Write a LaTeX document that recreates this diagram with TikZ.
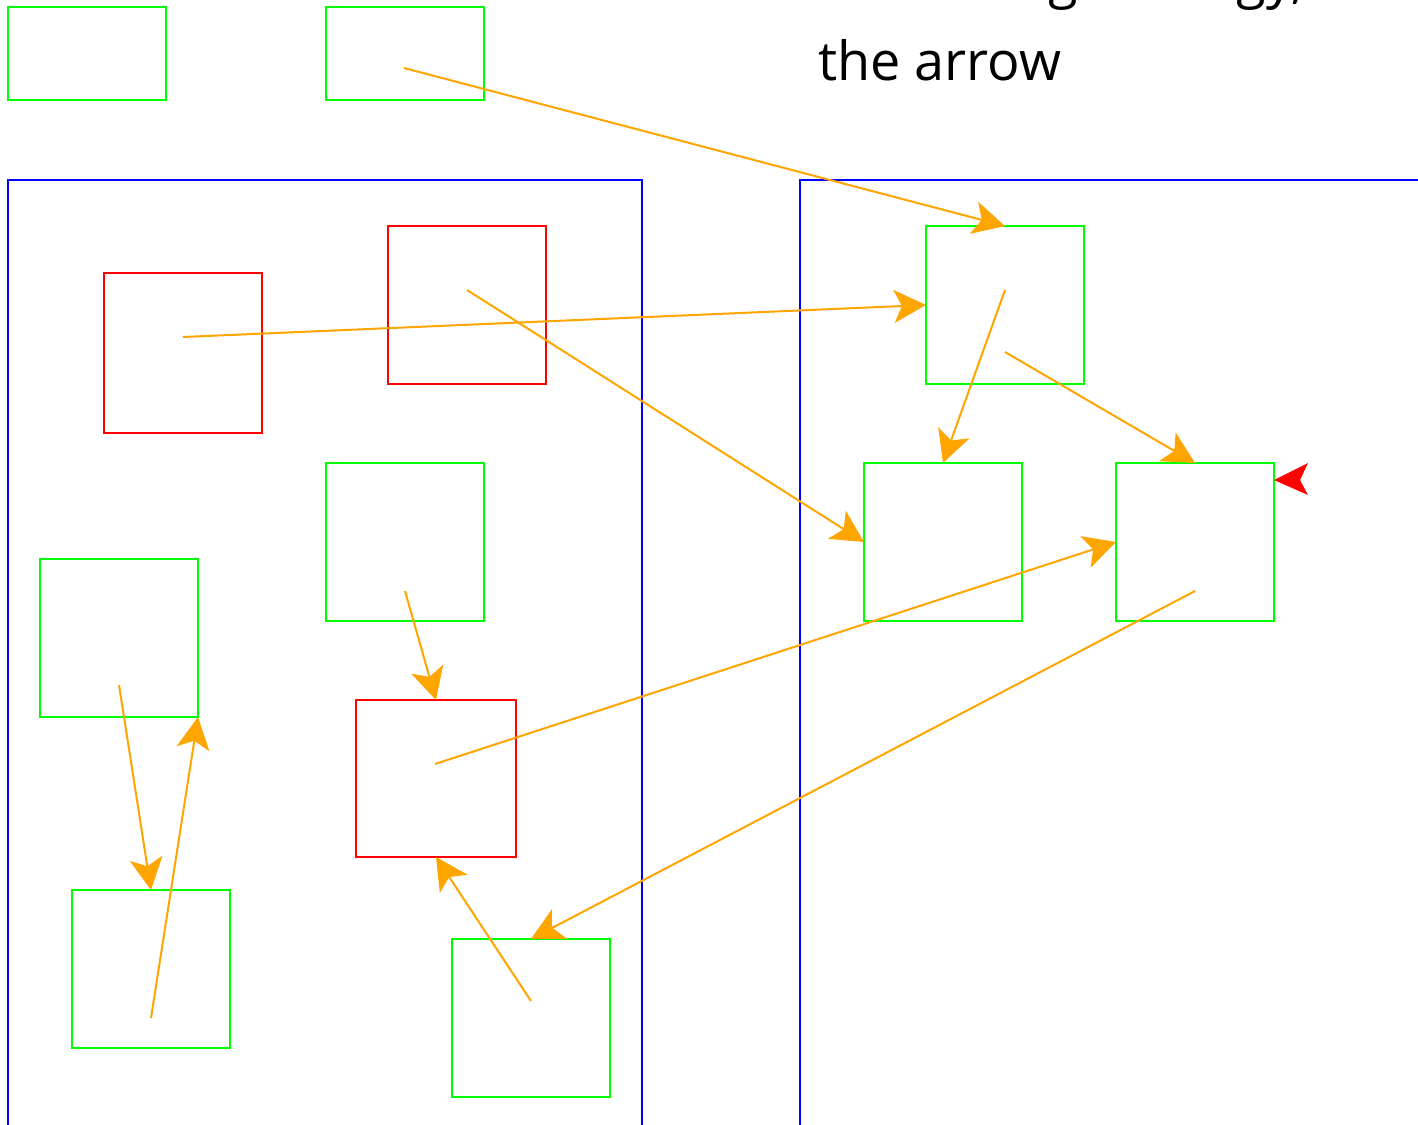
\documentclass[tikz,border=0pt]{standalone}
\usepackage{fontspec}
\setmainfont{Open Sans}
\usetikzlibrary{arrows.meta,calc}
\definecolor{boxgreen}{RGB}{0,255,0}
\definecolor{boxred}{RGB}{255,0,0}
\definecolor{frameblue}{RGB}{0,0,255}
\definecolor{arrorange}{RGB}{255,165,0}
\begin{document}
\begin{tikzpicture}[x=1pt,y=-1pt,
  box/.style={draw, line width=2pt, inner sep=0pt, outer sep=0pt, minimum width=158pt, minimum height=158pt},
  gbox/.style={box, draw=boxgreen},
  rbox/.style={box, draw=boxred},
  frame/.style={draw=frameblue, line width=2pt},
  conn/.style={draw=arrorange, line width=2pt, -{Stealth[length=32pt,width=33pt,inset=8pt]}},
  caption/.style={font=\fontsize{54}{64}\selectfont, inner sep=0pt}]
\useasboundingbox (0,0) rectangle (1418,1124);
\clip (0,0) rectangle (1418,1124);
% frames
\draw[frame] (8,1140) -- (8,180) -- (642,180) -- (642,1140);
\draw[frame] (800,1140) -- (800,180) -- (1430,180);
% caption
\node[caption, anchor=base east] (cap1) at (1305,-2) {routing strategy,};
\node[caption, anchor=base west] (cap2) at (818,81) {the arrow};
% boxes
\node[gbox, minimum height=93pt] (top1) at (87,53.5) {};
\node[gbox, minimum height=93pt] (top2) at (405,53.5) {};
\node[rbox, minimum height=160pt] (r1) at (183,353) {};
\node[rbox] (r2) at (467,305) {};
\node[rbox, minimum width=160pt, minimum height=157pt] (r3) at (436,778.5) {};
\node[gbox] (g1) at (405,542) {};
\node[gbox] (g2) at (119,638) {};
\node[gbox] (g3) at (151,969) {};
\node[gbox] (g4) at (531,1018) {};
\node[gbox] (g5) at (1005,305) {};
\node[gbox] (g6) at (943,542) {};
\node[gbox] (g7) at (1195,542) {};
% start points
\coordinate (s1) at (404,68);
\coordinate (s2) at (183,337);
\coordinate (s3) at (467,290);
\coordinate (s4) at (1005,290);
\coordinate (s5) at (1005,352);
\coordinate (s6) at (435,764);
\coordinate (s7) at (1195,591);
\coordinate (s8) at (531,1001);
\coordinate (s9) at (405,591);
\coordinate (s10) at (119,685);
\coordinate (s11) at (151,1018);
% connectors
\draw[conn] (s1) -- (g5.north);
\draw[conn] (s2) -- (g5.west);
\draw[conn] (s3) -- (g6.west);
\draw[conn] (s4) -- (g6.north);
\draw[conn] (s5) -- (g7.north);
\draw[conn] (s6) -- (g7.west);
\draw[conn] (s7) -- (g4.north);
\draw[conn] (s8) -- (r3.south);
\draw[conn] (s9) -- (r3.north);
\draw[conn] (s10) -- (g3.north);
\draw[conn] (s11) -- (g2.south east);
% red arrowhead
\fill[boxred] ($(g7.north east)+(0,17)$) -- ++(34,-17) -- ++(-8,17) -- ++(8,15) -- cycle;
\end{tikzpicture}
\end{document}
